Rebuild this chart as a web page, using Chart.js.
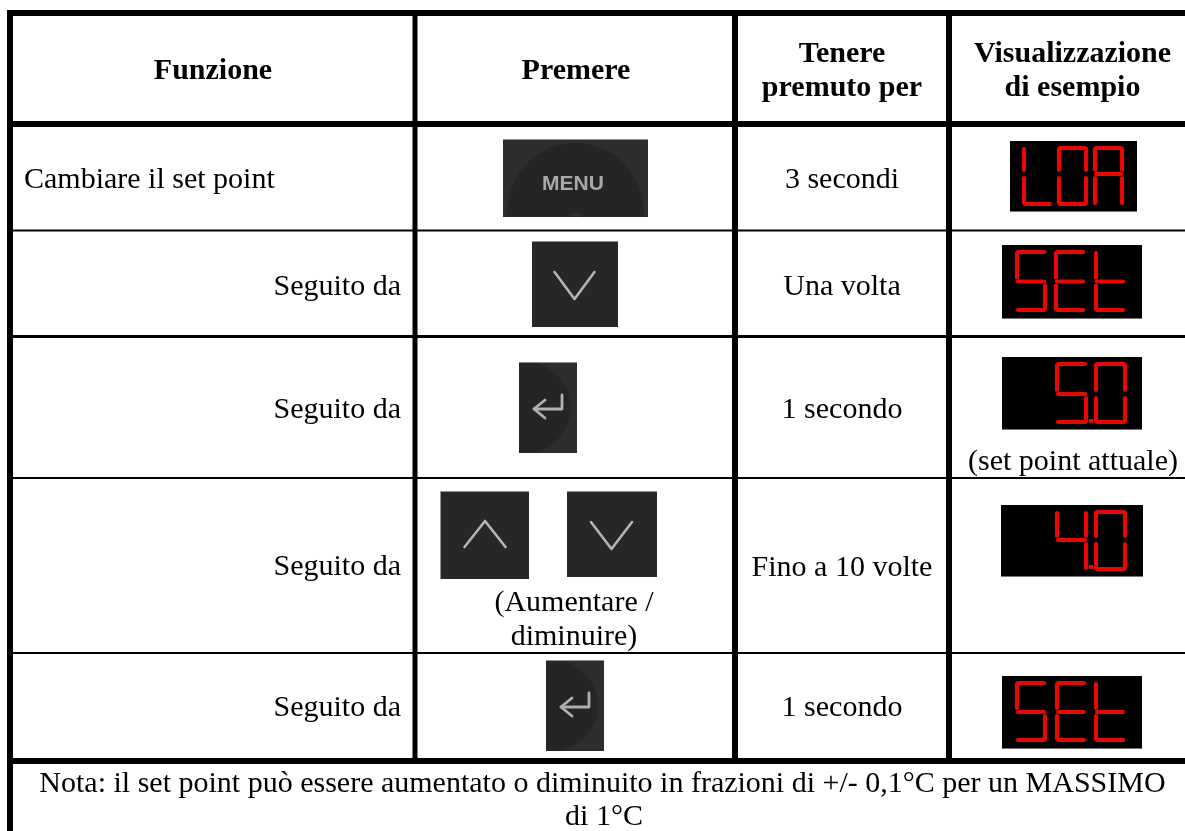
<!DOCTYPE html>
<html>
<head>
<meta charset="utf-8">
<title>Cambiare il set point</title>
<script src="https://cdn.jsdelivr.net/npm/chart.js@4"></script>
<style>
  html, body { margin: 0; padding: 0; background: #fff; }
  canvas { display: block; }
</style>
</head>
<body>
<canvas id="tabella" width="1185" height="831"></canvas>
<script>
// contenuto della tabella
const intestazioni = [["Funzione"], ["Premere"], ["Tenere", "premuto per"], ["Visualizzazione", "di esempio"]];
const funzioni = ["Cambiare il set point", "Seguito da", "Seguito da", "Seguito da", "Seguito da"];
const durate = ["3 secondi", "Una volta", "1 secondo", "Fino a 10 volte", "1 secondo"];
const tasti = ["MENU", "giu", "invio", "su-giu", "invio"];
const display = ["LOA", "SEt", "5.0", "4.0", "SEt"];
const notaDisplay = "(set point attuale)";
const notaTasti = ["(Aumentare /", "diminuire)"];
const nota = ["Nota: il set point può essere aumentato o diminuito in frazioni di +/- 0,1°C per un MASSIMO", "di 1°C"];

// griglia
const colonne = [10, 415, 735, 949];
const spessoriColonne = [6, 5, 6, 6];
const righe = [13, 124, 230.5, 336.5, 478, 653, 761];
const spessoriRighe = [6, 6, 2, 3, 2, 2, 6];

// stile
const SERIF = '"Liberation Serif"';
const CORPO = 30;
const baseIntest = [[79], [79], [62, 96], [62, 96]];
const baseFunzioni = [188, 295, 418, 575, 716];
const baseDurate = [188, 295, 418, 576, 716];
const centri = [213, 576, 842, 1072.5];
const ROSSO = "#e60805";

const tabelleSeg = {
  L: "fed", O: "abcdef", A: "abcefg", S: "afgcd", E: "afged", t: "fged",
  "5": "afgcd", "0": "abcdef", "4": "fgbc"
};

// riquadri: x0, x1, y0, y1 e posizione delle cifre
const pannelli = [
  { x: [1010, 1137], y: [141, 212], cifre: [1024, 1059, 1095], w: 27, alto: 148, medio: 174, basso: 204 },
  { x: [1002, 1142], y: [245, 319], cifre: [1017, 1056, 1096], w: 28, alto: 252, medio: 281.5, basso: 310 },
  { x: [1002, 1142], y: [357, 430], cifre: [1057, 1096], w: 29, alto: 364, medio: 394, basso: 422, punto: [1091, 421] },
  { x: [1001, 1143], y: [505, 577], cifre: [1057, 1096], w: 29, alto: 512, medio: 540, basso: 569, punto: [1091, 567] },
  { x: [1002, 1142], y: [676, 749], cifre: [1017, 1057, 1096], w: 28, alto: 683, medio: 712, basso: 740 }
];

const ruleData = [];
colonne.forEach((c, i) => {
  ruleData.push({ pts: [{ x: c, y: 10 }, { x: c, y: i === 0 ? 831 : 761 }], w: spessoriColonne[i] });
});
righe.forEach((r, i) => {
  ruleData.push({ pts: [{ x: 7, y: r }, { x: 1185, y: r }], w: spessoriRighe[i] });
});

function scrivi(ctx, sc, testo, x, y, al, bold) {
  ctx.font = (bold ? "bold " : "") + CORPO + "px " + SERIF;
  ctx.textAlign = al;
  ctx.textBaseline = "alphabetic";
  ctx.fillStyle = "#000";
  ctx.fillText(testo, sc.x.getPixelForValue(x), sc.y.getPixelForValue(y));
}

function sfondoTasto(ctx, sc, x0, x1, y0, y1) {
  const px = sc.x.getPixelForValue(x0), py = sc.y.getPixelForValue(y0);
  const w = sc.x.getPixelForValue(x1) - px, h = sc.y.getPixelForValue(y1) - py;
  ctx.fillStyle = "#272727";
  ctx.fillRect(px, py, w, h);
  ctx.fillStyle = "#8f8f8f";
  ctx.fillRect(px, py, w, 1);
  return { px, py, w, h };
}

function tracciaLinea(ctx, sc, punti, col, sp) {
  ctx.beginPath();
  punti.forEach((p, i) => {
    const X = sc.x.getPixelForValue(p[0]), Y = sc.y.getPixelForValue(p[1]);
    if (i === 0) ctx.moveTo(X, Y); else ctx.lineTo(X, Y);
  });
  ctx.strokeStyle = col;
  ctx.lineWidth = sp;
  ctx.lineCap = "round";
  ctx.lineJoin = "round";
  ctx.stroke();
}

function tastoMenu(ctx, sc) {
  const r = sfondoTasto(ctx, sc, 503, 648, 139, 217);
  ctx.save();
  ctx.beginPath();
  ctx.rect(r.px, r.py + 1, r.w, r.h - 1);
  ctx.clip();
  ctx.fillStyle = "#2d2d2d";
  ctx.fillRect(r.px, r.py + 1, r.w, r.h - 1);
  ctx.fillStyle = "#252525";
  ctx.beginPath();
  ctx.ellipse(r.px + r.w / 2, r.py + r.h - 4, r.w / 2 - 4, r.h - 8, 0, Math.PI, 2 * Math.PI);
  ctx.fill();
  ctx.fillRect(r.px + 4, r.py + r.h - 4, r.w - 8, 4);
  ctx.fillStyle = "#303030";
  ctx.beginPath();
  ctx.arc(r.px + r.w / 2, r.py + r.h + 1, 6, 0, 2 * Math.PI);
  ctx.fill();
  ctx.restore();
  ctx.save();
  ctx.filter = "blur(0.6px)";
  ctx.font = "bold 21px " + '"Liberation Sans"';
  ctx.textAlign = "center";
  ctx.textBaseline = "alphabetic";
  ctx.fillStyle = "#a8a8a8";
  ctx.fillText(tasti[0], sc.x.getPixelForValue(573), sc.y.getPixelForValue(190));
  ctx.restore();
}

function freccia(ctx, sc, x0, x1, y0, y1, tip, alto, basso, mezzo) {
  sfondoTasto(ctx, sc, x0, x1, y0, y1);
  ctx.save();
  ctx.filter = "blur(0.5px)";
  tracciaLinea(ctx, sc, [[tip - mezzo, alto], [tip, basso], [tip + mezzo, alto]], "#b4b4b4", 2.6);
  ctx.restore();
}

function tastoInvio(ctx, sc, x0, y0) {
  const r = sfondoTasto(ctx, sc, x0, x0 + 58, y0, y0 + 91);
  ctx.save();
  ctx.beginPath();
  ctx.rect(r.px, r.py + 1, r.w, r.h - 1);
  ctx.clip();
  ctx.fillStyle = "#2d2d2d";
  ctx.fillRect(r.px, r.py + 1, r.w, r.h - 1);
  ctx.fillStyle = "#252525";
  ctx.beginPath();
  ctx.ellipse(r.px, r.py + r.h / 2, r.w - 6, r.h / 2 + 2, 0, 0, 2 * Math.PI);
  ctx.fill();
  ctx.filter = "blur(0.5px)";
  const t = x0 + 15, m = y0 + 46;
  tracciaLinea(ctx, sc, [[x0 + 43, m - 13], [x0 + 43, m + 1], [t, m + 1]], "#b0b0b0", 2.8);
  tracciaLinea(ctx, sc, [[t + 11, m - 8], [t, m + 1], [t + 11, m + 10]], "#b0b0b0", 2.8);
  ctx.restore();
}

function disegnaDisplay(ctx, sc, testo, p) {
  const px = sc.x.getPixelForValue(p.x[0]), py = sc.y.getPixelForValue(p.y[0]);
  const w = sc.x.getPixelForValue(p.x[1]) - px, h = sc.y.getPixelForValue(p.y[1]) - py;
  ctx.fillStyle = "#000";
  ctx.fillRect(px, py, w, h);
  ctx.fillStyle = "#777";
  ctx.fillRect(px, py + h - 1, w, 1);
  const car = testo.replace(".", "").split("");
  car.forEach((c, i) => {
    const x0 = p.cifre[i], x1 = x0 + p.w;
    const ang = 1, gap = 4;
    const seg = {
      a: [[x0 + ang, p.alto], [x1 - ang, p.alto]],
      b: [[x1, p.alto + ang], [x1, p.medio - gap]],
      c: [[x1, p.medio + gap], [x1, p.basso - ang]],
      d: [[x0 + ang, p.basso], [x1 - ang, p.basso]],
      e: [[x0, p.medio + gap], [x0, p.basso - ang]],
      f: [[x0, p.alto + ang], [x0, p.medio - gap]],
      g: [[x0 + ang, p.medio], [x1 - ang, p.medio]]
    };
    tabelleSeg[c].split("").forEach(s => {
      tracciaLinea(ctx, sc, seg[s], ROSSO, 4.2);
    });
  });
  if (p.punto) {
    ctx.fillStyle = ROSSO;
    ctx.fillRect(sc.x.getPixelForValue(p.punto[0]) - 2, sc.y.getPixelForValue(p.punto[1]) - 2, 4, 4);
  }
}

const tabellaPlugin = {
  id: "tabella",
  afterDatasetsDraw(chart) {
    const ctx = chart.ctx, sc = chart.scales;
    ctx.save();
    ctx.filter = "blur(0.25px)";
    intestazioni.forEach((righeTesto, i) => {
      righeTesto.forEach((t, j) => scrivi(ctx, sc, t, centri[i], baseIntest[i][j], "center", true));
    });
    funzioni.forEach((t, i) => {
      if (i === 0) scrivi(ctx, sc, t, 24, baseFunzioni[i], "left", false);
      else scrivi(ctx, sc, t, 401, baseFunzioni[i], "right", false);
    });
    durate.forEach((t, i) => scrivi(ctx, sc, t, centri[2], baseDurate[i], "center", false));
    scrivi(ctx, sc, notaDisplay, 1073, 470, "center", false);
    scrivi(ctx, sc, notaTasti[0], 574, 611, "center", false);
    scrivi(ctx, sc, notaTasti[1], 574, 645, "center", false);
    scrivi(ctx, sc, nota[0], 602.5, 792, "center", false);
    scrivi(ctx, sc, nota[1], 604, 825, "center", false);
    ctx.restore();

    tastoMenu(ctx, sc);
    freccia(ctx, sc, 532, 618, 241, 327, 574.5, 272, 299, 20);
    tastoInvio(ctx, sc, 519, 362);
    freccia(ctx, sc, 440.5, 529, 491, 579, 485, 547, 521, 20.5);
    freccia(ctx, sc, 567, 657, 491, 577, 611.5, 522, 549, 20.5);
    tastoInvio(ctx, sc, 546, 660);

    ctx.save();
    ctx.filter = "blur(0.6px)";
    display.forEach((d, i) => disegnaDisplay(ctx, sc, d, pannelli[i]));
    ctx.restore();
  }
};

new Chart(document.getElementById("tabella"), {
  type: "scatter",
  data: {
    datasets: ruleData.map(r => ({
      data: r.pts,
      showLine: true,
      borderColor: "#000",
      borderWidth: r.w,
      borderCapStyle: "butt",
      pointRadius: 0,
      tension: 0
    }))
  },
  options: {
    responsive: false,
    animation: false,
    layout: { padding: 0 },
    plugins: { legend: { display: false }, tooltip: { enabled: false } },
    scales: {
      x: { type: "linear", min: 0, max: 1185, display: false },
      y: { type: "linear", min: 0, max: 831, reverse: true, display: false }
    }
  },
  plugins: [tabellaPlugin]
});
</script>
</body>
</html>
